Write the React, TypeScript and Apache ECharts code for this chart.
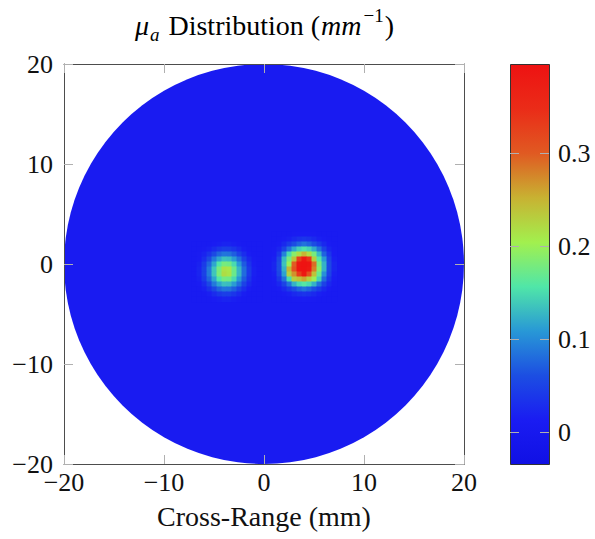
import React, { useEffect, useRef } from "react";
import * as echarts from "echarts";

// ---- axes / scale ----
const AXIS_MIN = -20;
const AXIS_MAX = 20;
const AXIS_INTERVAL = 10;
const COLORBAR_TICKS = [0, 0.1, 0.2, 0.3];
const VALUE_MIN = -0.034;
const VALUE_MAX = 0.396;

// ---- colormap (evenly spaced from VALUE_MIN to VALUE_MAX) ----
const COLORMAP = [
  "#1010e4",
  "#1a1cf2",
  "#1c4ee2",
  "#2898d6",
  "#50e6a8",
  "#a2f04e",
  "#c8b232",
  "#e05a22",
  "#ea2c18",
  "#ee1212",
];

// ---- imaging domain ----
const DOMAIN_RADIUS = 20;
const BACKGROUND = 0.01;
const CELL = 0.5;

// ---- left inclusion (values in mm^-1) ----
const LEFT_X = [-7, -6.5, -6, -5.5, -5, -4.5, -4, -3.5, -3, -2.5, -2, -1.5, -1, -0.5];
const LEFT_Y = [2, 1.5, 1, 0.5, 0, -0.5, -1, -1.5, -2, -2.5, -3, -3.5];
const LEFT_VALUES = [
  [0.01, 0.01, 0.01, 0.01, 0.013, 0.017, 0.02, 0.02, 0.017, 0.012, 0.01, 0.01, 0.01, 0.01],
  [0.01, 0.01, 0.012, 0.018, 0.028, 0.04, 0.046, 0.045, 0.038, 0.026, 0.016, 0.01, 0.01, 0.01],
  [0.01, 0.012, 0.02, 0.036, 0.057, 0.077, 0.087, 0.085, 0.072, 0.05, 0.03, 0.015, 0.01, 0.01],
  [0.01, 0.014, 0.03, 0.058, 0.09, 0.118, 0.135, 0.132, 0.112, 0.083, 0.05, 0.025, 0.012, 0.01],
  [0.011, 0.019, 0.043, 0.078, 0.118, 0.158, 0.18, 0.176, 0.15, 0.11, 0.069, 0.035, 0.015, 0.01],
  [0.011, 0.021, 0.049, 0.09, 0.137, 0.18, 0.216, 0.212, 0.173, 0.128, 0.081, 0.042, 0.018, 0.01],
  [0.011, 0.021, 0.049, 0.09, 0.137, 0.182, 0.22, 0.214, 0.173, 0.128, 0.081, 0.042, 0.018, 0.01],
  [0.01, 0.018, 0.042, 0.077, 0.117, 0.157, 0.178, 0.175, 0.15, 0.11, 0.069, 0.035, 0.015, 0.01],
  [0.01, 0.013, 0.028, 0.056, 0.089, 0.117, 0.133, 0.131, 0.112, 0.083, 0.05, 0.025, 0.012, 0.01],
  [0.01, 0.01, 0.018, 0.034, 0.055, 0.076, 0.086, 0.085, 0.072, 0.05, 0.03, 0.015, 0.01, 0.01],
  [0.01, 0.01, 0.01, 0.017, 0.028, 0.04, 0.046, 0.045, 0.038, 0.026, 0.016, 0.01, 0.01, 0.01],
  [0.01, 0.01, 0.01, 0.01, 0.013, 0.017, 0.02, 0.02, 0.017, 0.012, 0.01, 0.01, 0.01, 0.01],
];

// ---- right inclusion (values in mm^-1) ----
const RIGHT_X = [1, 1.5, 2, 2.5, 3, 3.5, 4, 4.5, 5, 5.5, 6, 6.5, 7];
const RIGHT_Y = [3, 2.5, 2, 1.5, 1, 0.5, 0, -0.5, -1, -1.5, -2, -2.5, -3, -3.5];
const RIGHT_VALUES = [
  [0.011, 0.011, 0.011, 0.011, 0.012, 0.013, 0.014, 0.013, 0.012, 0.011, 0.011, 0.011, 0.011],
  [0.01, 0.011, 0.013, 0.018, 0.026, 0.034, 0.038, 0.034, 0.026, 0.018, 0.013, 0.011, 0.01],
  [0.01, 0.014, 0.025, 0.042, 0.06, 0.075, 0.085, 0.075, 0.06, 0.042, 0.025, 0.014, 0.01],
  [0.012, 0.022, 0.05, 0.085, 0.12, 0.145, 0.155, 0.145, 0.12, 0.085, 0.05, 0.022, 0.012],
  [0.014, 0.038, 0.095, 0.15, 0.19, 0.22, 0.25, 0.22, 0.18, 0.13, 0.075, 0.038, 0.014],
  [0.018, 0.055, 0.13, 0.18, 0.24, 0.33, 0.385, 0.34, 0.23, 0.16, 0.11, 0.05, 0.018],
  [0.022, 0.06, 0.135, 0.2, 0.3, 0.39, 0.395, 0.39, 0.29, 0.18, 0.125, 0.055, 0.022],
  [0.022, 0.06, 0.125, 0.25, 0.31, 0.392, 0.395, 0.385, 0.28, 0.19, 0.125, 0.055, 0.022],
  [0.018, 0.055, 0.115, 0.23, 0.27, 0.33, 0.385, 0.31, 0.24, 0.17, 0.105, 0.05, 0.018],
  [0.015, 0.04, 0.085, 0.15, 0.23, 0.24, 0.26, 0.23, 0.2, 0.145, 0.08, 0.038, 0.015],
  [0.012, 0.024, 0.05, 0.085, 0.125, 0.15, 0.16, 0.15, 0.125, 0.085, 0.05, 0.024, 0.012],
  [0.01, 0.014, 0.025, 0.042, 0.06, 0.075, 0.085, 0.075, 0.06, 0.042, 0.025, 0.014, 0.01],
  [0.01, 0.011, 0.013, 0.018, 0.026, 0.032, 0.036, 0.032, 0.026, 0.018, 0.013, 0.011, 0.01],
  [0.01, 0.01, 0.011, 0.011, 0.012, 0.014, 0.015, 0.014, 0.012, 0.011, 0.011, 0.01, 0.01],
];

const TITLE = "{m|μ}{s|a}{r| Distribution (}{m|mm}{p|−1}{r|)}";
const X_NAME = "Cross-Range (mm)";

const FONT = "Liberation Serif";
const FRAME = "#4d4d4d";
const TICK = "#b0b0b0";
const TEXT = "#111111";

function toCells(xs: number[], ys: number[], vals: number[][]) {
  const out: number[][] = [];
  ys.forEach((y, i) => xs.forEach((x, j) => out.push([x, y, vals[i][j]])));
  return out;
}

const fmt = (v: number) => (v < 0 ? "\u2212" + Math.abs(v) : String(v));

export default function App() {
  const ref = useRef<HTMLDivElement>(null);
  useEffect(() => {
    document.body.style.margin = "0";
    if (!ref.current) return;
    const chart = echarts.init(ref.current, undefined, { renderer: "svg" });

    const cellRender = (params: any, api: any) => {
      const x = api.value(0);
      const y = api.value(1);
      const p = api.coord([x - CELL / 2, y + CELL / 2]);
      const s = api.size([CELL, CELL]);
      return {
        type: "rect",
        shape: { x: p[0], y: p[1], width: s[0] + 0.6, height: s[1] + 0.6 },
        style: { fill: api.visual("color") },
      };
    };

    const mainAxisCommon = {
      type: "value",
      min: AXIS_MIN,
      max: AXIS_MAX,
      interval: AXIS_INTERVAL,
      z: 10,
      splitLine: { show: false },
      axisLine: { show: true, onZero: false, lineStyle: { color: FRAME, width: 1 } },
      axisTick: { show: true, inside: true, length: 9, lineStyle: { color: TICK, width: 1 } },
    };
    const labelStyle = { fontFamily: FONT, fontSize: 26, color: TEXT };
    const cbTicks = {
      show: true,
      inside: true,
      length: 9,
      customValues: COLORBAR_TICKS,
      lineStyle: { color: TICK, width: 1 },
    };

    const stops = COLORMAP.map((c, i) => ({ offset: i / (COLORMAP.length - 1), color: c }));

    chart.setOption({
      animation: false,
      backgroundColor: "#ffffff",
      textStyle: { fontFamily: FONT },
      grid: [
        { left: 64, top: 64, width: 400, height: 400 },
        { left: 510, top: 64, width: 39, height: 400 },
      ],
      xAxis: [
        {
          ...mainAxisCommon,
          gridIndex: 0,
          position: "bottom",
          axisLabel: { ...labelStyle, margin: 5, formatter: fmt },
          name: X_NAME,
          nameLocation: "middle",
          nameGap: 38,
          nameTextStyle: { ...labelStyle, fontSize: 28 },
        },
        {
          ...mainAxisCommon,
          gridIndex: 0,
          position: "top",
          axisLabel: { show: false },
        },
        { type: "value", gridIndex: 1, min: 0, max: 1, show: false },
      ],
      yAxis: [
        {
          ...mainAxisCommon,
          gridIndex: 0,
          position: "left",
          axisLabel: { ...labelStyle, margin: 11, formatter: fmt },
        },
        {
          ...mainAxisCommon,
          gridIndex: 0,
          position: "right",
          axisLabel: { show: false },
        },
        {
          type: "value",
          gridIndex: 1,
          position: "right",
          min: VALUE_MIN,
          max: VALUE_MAX,
          z: 10,
          splitLine: { show: false },
          axisLine: { show: false, onZero: false },
          axisTick: cbTicks,
          axisLabel: { ...labelStyle, margin: 9, customValues: COLORBAR_TICKS },
        },
        {
          type: "value",
          gridIndex: 1,
          position: "left",
          min: VALUE_MIN,
          max: VALUE_MAX,
          z: 10,
          splitLine: { show: false },
          axisLine: { show: false, onZero: false },
          axisTick: cbTicks,
          axisLabel: { show: false },
        },
      ],
      visualMap: {
        type: "continuous",
        show: false,
        min: VALUE_MIN,
        max: VALUE_MAX,
        dimension: 2,
        seriesIndex: [0, 1, 2],
        inRange: { color: COLORMAP },
      },
      series: [
        {
          type: "custom",
          xAxisIndex: 0,
          yAxisIndex: 0,
          dimensions: ["x", "y", "v"],
          encode: { x: 0, y: 1 },
          data: [[0, 0, BACKGROUND]],
          renderItem: (params: any, api: any) => {
            const c = api.coord([api.value(0), api.value(1)]);
            const r = api.size([DOMAIN_RADIUS, 0])[0];
            return {
              type: "circle",
              shape: { cx: c[0], cy: c[1], r },
              style: { fill: api.visual("color") },
            };
          },
        },
        {
          type: "custom",
          xAxisIndex: 0,
          yAxisIndex: 0,
          dimensions: ["x", "y", "v"],
          encode: { x: 0, y: 1 },
          data: toCells(LEFT_X, LEFT_Y, LEFT_VALUES),
          renderItem: cellRender,
        },
        {
          type: "custom",
          xAxisIndex: 0,
          yAxisIndex: 0,
          dimensions: ["x", "y", "v"],
          encode: { x: 0, y: 1 },
          data: toCells(RIGHT_X, RIGHT_Y, RIGHT_VALUES),
          renderItem: cellRender,
        },
        {
          type: "custom",
          xAxisIndex: 2,
          yAxisIndex: 2,
          data: [[0.5, 0]],
          renderItem: (params: any) => {
            const cs = params.coordSys;
            return {
              type: "rect",
              shape: { x: cs.x + 0.5, y: cs.y + 0.5, width: cs.width, height: cs.height },
              style: {
                fill: new echarts.graphic.LinearGradient(0, 1, 0, 0, stops),
                stroke: "#333333",
                lineWidth: 1,
              },
            };
          },
        },
      ],
      graphic: [
        {
          type: "text",
          x: 264,
          y: 25,
          style: {
            text: TITLE,
            align: "center",
            verticalAlign: "middle",
            fontFamily: FONT,
            fontSize: 28,
            rich: {
              r: { fontFamily: FONT, fontSize: 28, color: TEXT, lineHeight: 38 },
              m: { fontFamily: FONT, fontSize: 28, fontStyle: "italic", color: TEXT, lineHeight: 38, padding: [0, 1] },
              s: {
                fontFamily: FONT,
                fontSize: 19,
                fontStyle: "italic",
                color: TEXT,
                lineHeight: 21,
                verticalAlign: "bottom",
                padding: [0, 2, 0, 0],
              },
              p: { fontFamily: FONT, fontSize: 19, color: TEXT, lineHeight: 21, verticalAlign: "top", padding: [0, 1] },
            },
          },
        },
      ],
    });
    return () => chart.dispose();
  }, []);
  return <div ref={ref} style={{ width: 595, height: 539 }} />;
}
